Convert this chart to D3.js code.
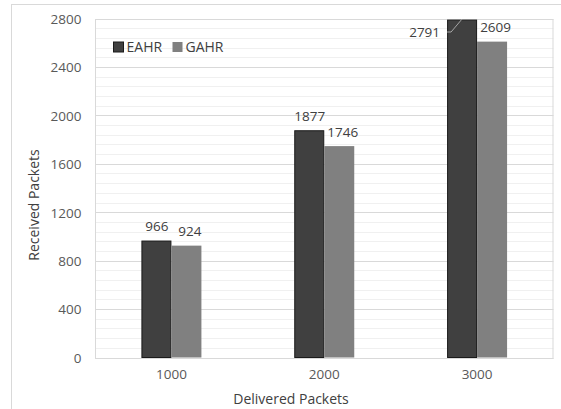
<!DOCTYPE html>
<html>
<head>
<meta charset="utf-8">
<script src="https://cdn.jsdelivr.net/npm/d3@7/dist/d3.min.js"></script>
<style>
  html, body { margin: 0; padding: 0; background: #fff; }
  svg { display: block; font-family: "Open Sans", sans-serif; }
</style>
</head>
<body>
<svg id="chart" width="561" height="409"></svg>
<script>
const categories = ["1000", "2000", "3000"];
const seriesNames = ["EAHR", "GAHR"];
const eahrValues = [966, 1877, 2791];
const gahrValues = [924, 1746, 2609];
const yTickValues = [0, 400, 800, 1200, 1600, 2000, 2400, 2800];
const yMinorStep = 80;
const seriesColors = ["#404040", "#808080"];

const svg = d3.select("#chart");
const plotLeft = 95, plotRight = 553.5, plotTop = 18.5, plotBottom = 357.5;
const numFont = "13.5px", titleFont = "14px";

// outer chart border
svg.append("rect").attr("x", 11.5).attr("y", 4.5).attr("width", 620).attr("height", 500)
  .attr("fill", "#fff").attr("stroke", "#d9d9d9").attr("stroke-width", 1);

const y = d3.scaleLinear().domain([0, 2800]).range([plotBottom, plotTop]);
const x0 = d3.scaleBand().domain(categories).range([plotLeft, plotRight]).padding(0);
const barW = 30;
const x1 = d3.scaleBand().domain(seriesNames)
  .range([x0.bandwidth() / 2 - barW, x0.bandwidth() / 2 + barW]).padding(0);

// minor gridlines
const minor = d3.range(0, 2800 + 1, yMinorStep).filter(v => v % 400 !== 0);
svg.append("g").selectAll("line").data(minor).join("line")
  .attr("x1", plotLeft).attr("x2", plotRight)
  .attr("y1", d => Math.round(y(d)) + 0.5).attr("y2", d => Math.round(y(d)) + 0.5)
  .attr("stroke", "#f0f0f0").attr("stroke-width", 1);

// major gridlines
svg.append("g").selectAll("line").data(yTickValues).join("line")
  .attr("x1", plotLeft).attr("x2", plotRight)
  .attr("y1", d => Math.round(y(d)) + 0.5).attr("y2", d => Math.round(y(d)) + 0.5)
  .attr("stroke", "#d9d9d9").attr("stroke-width", 1);

// plot area frame
svg.append("rect").attr("x", plotLeft + 0.5).attr("y", Math.round(plotTop) + 0.5)
  .attr("width", plotRight - plotLeft - 1).attr("height", Math.round(plotBottom) - Math.round(plotTop))
  .attr("fill", "none").attr("stroke", "#d9d9d9");

// y axis labels
const yAxis = d3.axisLeft(y).tickValues(yTickValues).tickFormat(d3.format("d")).tickSize(0).tickPadding(0);
const gy = svg.append("g").attr("transform", "translate(81.5,0)").call(yAxis);
gy.select(".domain").remove();
gy.selectAll("text").attr("fill", "#595959").style("font-size", numFont)
  .style("font-family", "'Open Sans', sans-serif").attr("dy", "0.36em");

// x axis labels
const xAxis = d3.axisBottom(x0).tickSize(0).tickPadding(0);
const gx = svg.append("g").attr("transform", "translate(0,369)").call(xAxis);
gx.select(".domain").remove();
gx.selectAll("text").attr("fill", "#595959").style("font-size", numFont)
  .style("font-family", "'Open Sans', sans-serif").attr("dy", "0.75em");

// bars
const data = categories.map((c, i) => ({cat: c, vals: [
  {s: "EAHR", v: eahrValues[i], idx: 0},
  {s: "GAHR", v: gahrValues[i], idx: 1}
]}));

const groups = svg.append("g").selectAll("g").data(data).join("g")
  .attr("transform", d => `translate(${x0(d.cat)},0)`);

groups.selectAll("rect").data(d => d.vals).join("rect")
  .attr("x", d => x1(d.s) + (d.idx === 0 ? 0.5 : 0))
  .attr("y", d => y(d.v) + (d.idx === 0 ? 0.5 : 0))
  .attr("width", d => barW - (d.idx === 0 ? 1 : 0))
  .attr("height", d => plotBottom - y(d.v) - (d.idx === 0 ? 0.5 : 0))
  .attr("fill", d => seriesColors[d.idx])
  .attr("stroke", d => d.idx === 0 ? "#1a1a1a" : "none")
  .attr("stroke-width", 1);

// data labels
groups.each(function(d) {
  const g = d3.select(this);
  d.vals.forEach(item => {
    const bx = x1(item.s);
    const isLast = item.s === "EAHR" && d.cat === "3000";
    if (isLast) {
      const ly = y(2800) + 13.5;
      g.append("path")
        .attr("d", `M${bx},${ly} H${bx + 4} L${bx + 15},${y(2800) + 0.5}`)
        .attr("fill", "none").attr("stroke", "#a6a6a6").attr("stroke-width", 1);
      g.append("text").attr("x", bx - 7).attr("y", ly + 4.8)
        .attr("text-anchor", "end").attr("fill", "#404040").style("font-size", numFont)
        .text(item.v);
    } else {
      g.append("text")
        .attr("x", bx + barW / 2 + (item.idx === 0 ? 0.5 : 3.5))
        .attr("y", y(item.v) - 9.5)
        .attr("text-anchor", "middle").attr("fill", "#404040").style("font-size", numFont)
        .text(item.v);
    }
  });
});

// legend
const legend = svg.append("g");
const legendX = [113.5, 172.5];
seriesNames.forEach((s, i) => {
  legend.append("rect").attr("x", legendX[i]).attr("y", 42).attr("width", 10).attr("height", 10)
    .attr("fill", seriesColors[i]).attr("stroke", i === 0 ? "#1a1a1a" : "none");
  legend.append("text").attr("x", legendX[i] + 13).attr("y", 46.5).attr("dy", "0.36em")
    .attr("fill", "#404040").style("font-size", titleFont).text(s);
});

// axis titles
svg.append("text").attr("x", 291).attr("y", 398.5).attr("dy", "0.36em")
  .attr("text-anchor", "middle").attr("fill", "#404040").style("font-size", titleFont)
  .text("Delivered Packets");
svg.append("text").attr("transform", "translate(33.5,205) rotate(-90)").attr("dy", "0.36em")
  .attr("text-anchor", "middle").attr("fill", "#404040").style("font-size", titleFont)
  .text("Received Packets");
</script>
</body>
</html>
